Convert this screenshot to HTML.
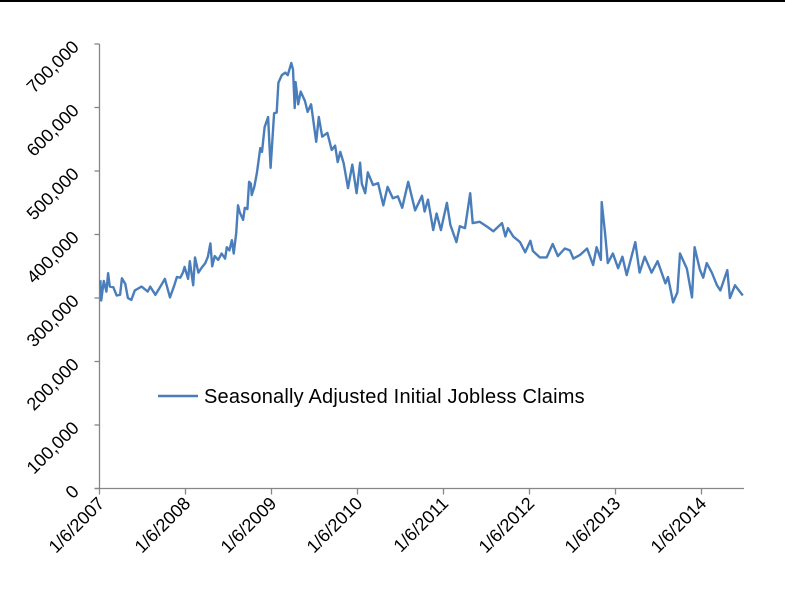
<!DOCTYPE html>
<html><head><meta charset="utf-8"><style>
html,body{margin:0;padding:0;background:#fff;width:785px;height:590px;overflow:hidden}
svg text{font-family:"Liberation Sans",sans-serif;fill:#000}
</style></head><body>
<svg id="chart" width="785" height="590" viewBox="0 0 785 590">
<line x1="0" y1="1" x2="785" y2="1" stroke="#000" stroke-width="2"/>
<g id="axes"></g>
<path id="series" fill="none" stroke="#4a7ebb" stroke-width="2.4" stroke-linejoin="round"/>
<g>
<line x1="158" y1="396" x2="198" y2="396" stroke="#4a7ebb" stroke-width="2.4"/>
<text x="204" y="403" font-size="20" letter-spacing="0.2">Seasonally Adjusted Initial Jobless Claims</text>
</g>
</svg>
<script>
const years = [2007.01,2007.02,2007.05,2007.08,2007.10,2007.12,2007.16,2007.20,2007.24,2007.26,2007.30,2007.33,2007.37,2007.41,2007.45,2007.49,2007.56,2007.59,2007.65,2007.70,2007.76,2007.82,2007.87,2007.90,2007.94,2007.97,2007.99,
2008.03,2008.05,2008.09,2008.11,2008.15,2008.19,2008.23,2008.26,2008.29,2008.31,2008.34,2008.38,2008.42,2008.46,2008.48,2008.51,2008.54,2008.56,2008.59,2008.61,2008.63,2008.67,2008.69,2008.72,2008.74,2008.76,2008.77,2008.80,2008.83,2008.87,2008.89,2008.92,2008.96,2008.99,
2009.03,2009.06,2009.08,2009.12,2009.16,2009.19,2009.23,2009.25,2009.27,2009.28,2009.31,2009.34,2009.39,2009.42,2009.46,2009.52,2009.55,2009.59,2009.65,2009.70,2009.74,2009.77,2009.80,2009.84,2009.89,2009.94,2009.99,
2010.03,2010.05,2010.09,2010.12,2010.18,2010.24,2010.30,2010.35,2010.41,2010.47,2010.52,2010.59,2010.67,2010.75,2010.78,2010.82,2010.88,2010.92,2010.97,
2011.04,2011.08,2011.15,2011.19,2011.25,2011.31,2011.34,2011.42,2011.51,2011.58,2011.68,2011.72,2011.75,2011.81,2011.89,2011.95,
2012.01,2012.04,2012.12,2012.20,2012.27,2012.33,2012.41,2012.47,2012.51,2012.59,2012.67,2012.74,2012.78,2012.83,2012.84,2012.88,2012.91,2012.97,
2013.03,2013.08,2013.13,2013.23,2013.28,2013.34,2013.42,2013.49,2013.58,2013.61,2013.67,2013.72,2013.75,2013.83,2013.89,2013.92,2013.98,
2014.02,2014.06,2014.12,2014.18,2014.22,2014.30,2014.33,2014.39,2014.48];
const claims = [328,296,327,310,339,318,317,304,305,331,322,300,297,312,315,318,310,318,305,316,330,301,320,333,332,340,349,
330,358,320,364,340,348,355,365,386,350,366,360,370,362,380,375,391,370,402,446,435,423,442,440,483,480,462,475,497,536,530,569,585,505,
591,592,639,651,655,651,670,660,599,640,605,625,610,593,605,546,585,554,560,533,540,514,530,512,473,510,465,
513,480,465,498,478,481,446,475,457,460,442,483,438,461,436,455,407,433,407,
450,415,388,413,410,465,418,420,412,405,418,397,410,397,388,372,
390,374,364,364,385,366,378,375,362,368,378,352,380,360,451,400,355,370,
347,365,336,388,340,365,340,358,323,333,293,309,370,346,301,380,345,
332,355,340,320,312,344,300,320,304];
const yTicks = [0,100000,200000,300000,400000,500000,600000,700000];
const yTickLabels = ["0","100,000","200,000","300,000","400,000","500,000","600,000","700,000"];
const xTicks = [2007,2008,2009,2010,2011,2012,2013,2014];
const xTickLabels = ["1/6/2007","1/6/2008","1/6/2009","1/6/2010","1/6/2011","1/6/2012","1/6/2013","1/6/2014"];

const X0=99.5, PXY=86, Y0=488.5, PXV=444.5/700000;
const xs = v => X0 + (v-2007)*PXY;
const ys = v => Y0 - v*PXV;
const NS="http://www.w3.org/2000/svg";
const axes=document.getElementById('axes');
function mk(tag, attrs){const e=document.createElementNS(NS,tag);for(const k in attrs)e.setAttribute(k,attrs[k]);return e;}

let yl=mk('line',{x1:X0,y1:ys(700000),x2:X0,y2:Y0,stroke:'#868686','stroke-width':1.3});


axes.appendChild(yl);
let xl=mk('line',{x1:X0-5,y1:Y0,x2:744,y2:Y0,stroke:'#868686','stroke-width':1.3});


axes.appendChild(xl);

yTicks.forEach((v,i)=>{
  const y=ys(v);
  const t=mk('line',{x1:X0-5,y1:y,x2:X0,y2:y,stroke:'#868686','stroke-width':1.3});
  
  
  axes.appendChild(t);
  const lx=80, ly=y+4;
  const tx=mk('text',{x:lx,y:ly,'font-size':18,'text-anchor':'end',transform:`rotate(-45 ${lx} ${ly})`});
  tx.textContent=yTickLabels[i];
  
  
  axes.appendChild(tx);
});
xTicks.forEach((v,i)=>{
  const x=xs(v);
  const t=mk('line',{x1:x,y1:Y0,x2:x,y2:Y0+6,stroke:'#868686','stroke-width':1.3});
  
  
  axes.appendChild(t);
  const lx=x+6, ly=Y0+16;
  const tx=mk('text',{x:lx,y:ly,'font-size':18,'text-anchor':'end',transform:`rotate(-45 ${lx} ${ly})`});
  tx.textContent=xTickLabels[i];
  
  
  axes.appendChild(tx);
});

let d='';
years.forEach((yr,i)=>{d+=(i?'L':'M')+xs(yr).toFixed(1)+','+ys(claims[i]*1000).toFixed(1);});
document.getElementById('series').setAttribute('d',d);
</script>
</body></html>
